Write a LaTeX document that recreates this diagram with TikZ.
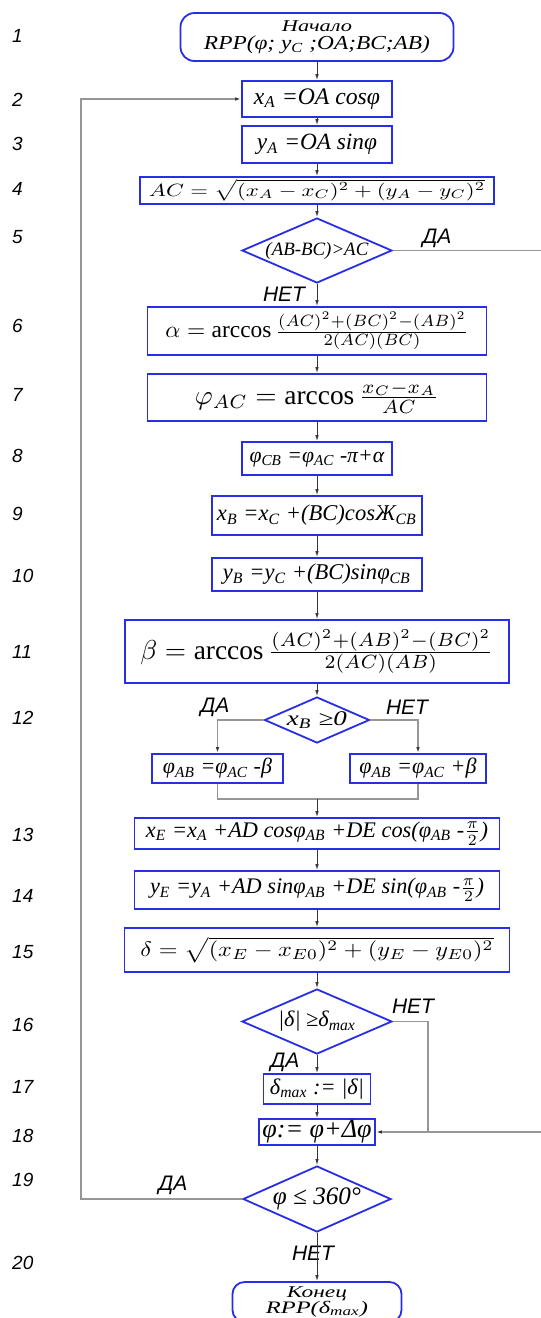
\documentclass[tikz,border=0pt]{standalone}
\usepackage{fontspec}
\usepackage{graphicx}
\setmainfont{Liberation Serif}
\newfontfamily\gost{Liberation Sans}
\usetikzlibrary{shapes.geometric,arrows.meta}
\definecolor{bblue}{RGB}{40,45,230}
\definecolor{lgray}{RGB}{150,150,150}
\definecolor{dgray}{RGB}{55,55,55}
\newcommand{\fw}[2]{\resizebox{#1pt}{!}{#2}}
\newcommand{\fwh}[3]{\resizebox*{#1pt}{#2pt}{#3}}
\newcommand{\twoline}[3]{{\renewcommand{\arraystretch}{0}\begin{tabular}{@{}c@{}}#1\\[#3pt]#2\end{tabular}}}
\tikzset{
  box/.style={draw=bblue, line width=1.8pt, inner sep=0pt, fill=white},
  rbox/.style={box, rounded corners=14pt},
  dia/.style={draw=bblue, line width=1.8pt, diamond, inner sep=0pt, fill=white},
  arr/.style={draw=dgray, line width=0.9pt, -{Latex[length=6pt,width=3.5pt]}},
  gline/.style={draw=lgray, line width=1.2pt},
  garr/.style={gline, -{Latex[length=6pt,width=3.5pt,color=dgray]}},
  lab/.style={font=\gost\itshape\fontsize{21}{21}\selectfont, inner sep=0pt},
  num/.style={font=\gost\itshape\fontsize{19}{19}\selectfont, inner sep=0pt, anchor=west},
}
\begin{document}
\begin{tikzpicture}[x=1pt,y=-1pt]
\fill[white] (0,0) rectangle (541,1318);
\useasboundingbox (0,0) rectangle (541,1318);

% blocks
\node[rbox, minimum width=273pt, minimum height=48pt] (n1) at (317,37)
  {\twoline{\fwh{70}{11}{\textit{Начало}}}{\fwh{226}{18}{\textit{RPP(φ; y\textsubscript{C} ;OA;BC;AB)}}}{4}};
\node[box, minimum width=150pt, minimum height=36pt] (n2) at (317,99)
  {\fw{126}{\textit{x\textsubscript{A} =OA cosφ}}};
\node[box, minimum width=150pt, minimum height=37pt] (n3) at (317,144.5)
  {\fw{120}{\textit{y\textsubscript{A} =OA sinφ}}};
\node[box, minimum width=354pt, minimum height=27pt] (n4) at (317,190.5)
  {\fwh{336}{22}{$AC = \sqrt{(x_A - x_C)^2 + (y_A - y_C)^2}$}};
\node[dia, aspect=2.31, minimum width=150pt, minimum height=65pt] (n5) at (317,250.5)
  {\fw{103}{\textit{(AB-BC)>AC}}};
\node[box, minimum width=339pt, minimum height=48pt] (n6) at (317,331)
  {\fw{303}{$\alpha = \arccos \frac{(AC)^2+(BC)^2-(AB)^2}{2(AC)(BC)}$}};
\node[box, minimum width=339pt, minimum height=47pt] (n7) at (317,397.5)
  {\fw{244}{$\varphi_{AC} = \arccos\frac{x_C-x_A}{AC}$}};
\node[box, minimum width=150pt, minimum height=33pt] (n8) at (317,458.5)
  {\fw{135}{\textit{φ\textsubscript{CB} =φ\textsubscript{AC} -π+α}}};
\node[box, minimum width=210pt, minimum height=39pt] (n9) at (317,515.5)
  {\fw{200}{\textit{x\textsubscript{B} =x\textsubscript{C} +(BC)cosЖ\textsubscript{CB}}}};
\node[box, minimum width=210pt, minimum height=33pt] (n10) at (317,574.5)
  {\fw{188}{\textit{y\textsubscript{B} =y\textsubscript{C} +(BC)sinφ\textsubscript{CB}}}};
\node[box, minimum width=384pt, minimum height=63pt] (n11) at (317,651.5)
  {\fw{353}{$\beta = \arccos\frac{(AC)^2+(AB)^2-(BC)^2}{2(AC)(AB)}$}};
\node[dia, aspect=2.28, minimum width=105pt, minimum height=46pt] (n12) at (317,720)
  {\fwh{60}{17}{\textit{x\textsubscript{B} ≥0}}};
\node[box, minimum width=131pt, minimum height=29pt] (n12L) at (217.5,768.5)
  {\fw{109}{\textit{φ\textsubscript{AB} =φ\textsubscript{AC} -β}}};
\node[box, minimum width=136pt, minimum height=29pt] (n12R) at (418,768.5)
  {\fw{117}{\textit{φ\textsubscript{AB} =φ\textsubscript{AC} +β}}};
\node[box, minimum width=365pt, minimum height=31pt] (n13) at (317,833.5)
  {\fw{342}{\textit{x\textsubscript{E} =x\textsubscript{A} +AD cosφ\textsubscript{AB} +DE cos(φ\textsubscript{AB} -$\frac{\pi}{2}$)}}};
\node[box, minimum width=365pt, minimum height=38pt] (n14) at (317,890)
  {\fw{334}{\textit{y\textsubscript{E} =y\textsubscript{A} +AD sinφ\textsubscript{AB} +DE sin(φ\textsubscript{AB} -$\frac{\pi}{2}$)}}};
\node[box, minimum width=385pt, minimum height=44pt] (n15) at (317,950)
  {\fwh{353}{26}{$\delta = \sqrt{(x_E - x_{E0})^2 + (y_E - y_{E0})^2}$}};
\node[dia, aspect=2.31, minimum width=150pt, minimum height=65pt] (n16) at (317,1021.5)
  {\fw{78}{\textit{|δ| ≥δ\textsubscript{max}}}};
\node[box, minimum width=107pt, minimum height=30pt] (n17) at (317,1089)
  {\fw{94}{\textit{δ\textsubscript{max} := |δ|}}};
\node[box, minimum width=116pt, minimum height=26pt] (n18) at (317,1132)
  {\fw{109}{\textit{φ:= φ+Δφ}}};
\node[dia, aspect=2.24, minimum width=148pt, minimum height=66pt] (n19) at (317,1199)
  {\fw{88}{\textit{φ ≤ 360°}}};
\node[rbox, rounded corners=12pt, minimum width=169pt, minimum height=40pt] (n20) at (317,1302)
  {\twoline{\fwh{60}{14}{\textit{Конец}}}{\fwh{102}{16}{\textit{RPP(δ\textsubscript{max})}}}{1}};

% step numbers
\node[num] (s1) at (12,36) {1};
\node[num] (s2) at (12,100) {2};
\node[num] (s3) at (12,144) {3};
\node[num] (s4) at (12,189) {4};
\node[num] (s5) at (12,237) {5};
\node[num] (s6) at (12,326) {6};
\node[num] (s7) at (12,395) {7};
\node[num] (s8) at (12,456) {8};
\node[num] (s9) at (12,514) {9};
\node[num] (s10) at (12,576) {10};
\node[num] (s11) at (12,652) {11};
\node[num] (s12) at (12,718) {12};
\node[num] (s13) at (12,835) {13};
\node[num] (s14) at (12,896) {14};
\node[num] (s15) at (12,952) {15};
\node[num] (s16) at (12,1025) {16};
\node[num] (s17) at (12,1087) {17};
\node[num] (s18) at (12,1136) {18};
\node[num] (s19) at (12,1180) {19};
\node[num] (s20) at (12,1263) {20};

% labels
\node[lab] (l5y) at (437,238) {ДА};
\node[lab] (l5n) at (284,294) {НЕТ};
\node[lab] (l12y) at (215,707) {ДА};
\node[lab] (l12n) at (407,707) {НЕТ};
\node[lab] (l16n) at (413,1006) {НЕТ};
\node[lab] (l16y) at (285,1062) {ДА};
\node[lab] (l19y) at (173,1185) {ДА};
\node[lab] (l19n) at (313,1253) {НЕТ};

% coordinates
\coordinate (e5) at (545,250.5);
\coordinate (mg) at (317,799);
\coordinate (j18) at (428,1132);
\coordinate (e18) at (545,1132);
\coordinate (lb) at (81,1199);

% connectors
\draw[arr] (n1) -- (n2);
\draw[arr] (n2) -- (n3);
\draw[arr] (n3) -- (n4);
\draw[arr] (n4) -- (n5);
\draw[gline, line width=1.8pt] (n5.east) -- (e5);
\draw[arr] (n5) -- (n6);
\draw[arr] (n6) -- (n7);
\draw[arr] (n7) -- (n8);
\draw[arr] (n8) -- (n9);
\draw[arr] (n9) -- (n10);
\draw[arr] (n10) -- (n11);
\draw[arr] (n11) -- (n12);
\draw[garr] (n12.west) -| (n12L.north);
\draw[garr] (n12.east) -| (n12R.north);
\draw[gline] (n12L.south) |- (mg) -| (n12R.south);
\draw[arr] (mg) -- (n13.north);
\draw[arr] (n13) -- (n14);
\draw[arr] (n14) -- (n15);
\draw[arr] (n15) -- (n16);
\draw[arr] (n16) -- (n17);
\draw[gline] (n16.east) -| (j18);
\draw[garr] (e18) -- (n18.east);
\draw[arr] (n17) -- (n18);
\draw[arr] (n18) -- (n19);
\draw[garr] (n19.west) -- (lb) |- (n2.west);
\draw[arr] (n19) -- (n20);
\end{tikzpicture}
\end{document}
